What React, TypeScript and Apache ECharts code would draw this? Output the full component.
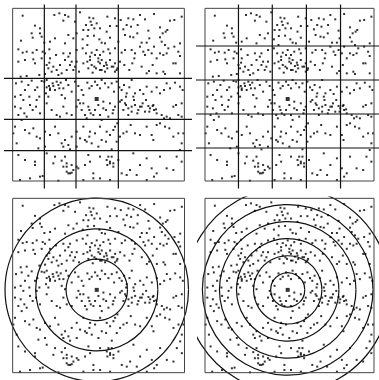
import React, { useEffect, useRef } from "react";
import * as echarts from "echarts";

// Field of scattered samples, in box units (box = 0..515 wide, 0..518 tall, y measured downward)
const points: [number, number][] = [
  [30,22],[125,20],[140,15],[157,20],[167,25],[202,12],[230,28],[242,30],[234,40],[220,50],[237,50],[252,45],[284,25],[307,30],[292,53],[312,53],[324,35],[347,30],[362,33],[382,20],[397,33],[424,17],[472,37],[485,35],[507,25],[67,52],[82,60],[152,37],[187,40],[212,65],[227,65],[245,60],[262,60],[282,70],[332,63],[342,50],[355,55],[375,50],[442,57],[450,75],[459,70],[464,65],[407,67],[57,75],
  [25,97],[60,88],[82,75],[87,85],[95,103],[112,100],[127,90],[157,105],[167,80],[182,90],[192,75],[210,93],[225,83],[244,82],[260,93],[267,103],[277,105],[292,88],[317,100],[337,80],[352,85],[362,87],[374,75],[387,103],[402,103],[410,90],[442,87],[447,100],[457,110],[462,135],[467,120],[485,115],[502,105],[17,123],[30,133],[42,130],[60,133],[72,125],[90,130],[97,135],[110,123],[130,140],[152,135],[172,135],[192,125],[210,120],[224,110],[237,133],[252,125],[262,140],[272,130],[287,123],[292,135],[307,120],[327,133],[337,125],[357,125],[367,135],[382,115],[392,130],[397,140],[424,115],[442,135],[452,140],[497,130],[502,143],
  [17,160],[37,155],[62,153],[67,165],[87,150],[102,170],[110,163],[117,190],[132,185],[142,170],[147,195],[162,185],[172,170],[177,160],[187,175],[199,190],[212,165],[227,180],[232,155],[240,193],[245,175],[257,150],[262,165],[267,185],[277,190],[282,170],[292,155],[302,175],[307,190],[314,180],[322,160],[335,170],[350,185],[359,165],[365,150],[387,175],[402,195],[409,188],[420,170],[432,195],[452,190],[457,197],[482,165],[489,165],[502,195],[80,200],[97,197],[24,205],[42,203],
  [10,225],[27,220],[47,230],[57,217],[67,245],[74,237],[87,218],[102,215],[109,233],[112,240],[120,225],[127,245],[137,230],[144,223],[152,240],[160,215],[167,230],[177,250],[187,220],[197,233],[207,245],[212,260],[224,223],[230,240],[237,233],[247,220],[254,230],[262,240],[267,215],[277,225],[287,237],[297,225],[304,250],[312,220],[320,237],[327,245],[334,230],[340,265],[350,237],[357,215],[367,255],[382,245],[392,257],[402,235],[417,250],[432,237],[442,255],[454,245],[462,225],[472,240],[487,223],[502,235],[7,265],[24,260],[37,245],[50,265],[72,275],[80,265],[32,275],
  [24,300],[35,315],[42,325],[52,290],[60,305],[70,295],[82,315],[102,285],[117,305],[132,320],[142,325],[152,295],[162,315],[177,320],[192,295],[202,285],[207,305],[217,320],[227,295],[234,315],[247,305],[262,320],[272,300],[280,305],[292,285],[300,315],[307,295],[322,280],[332,305],[340,290],[347,320],[357,295],[364,275],[374,315],[382,295],[390,285],[397,310],[407,293],[412,300],[422,290],[424,305],[432,315],[447,320],[454,330],[462,325],[472,330],[482,295],[490,290],[497,320],[507,285],
  [7,355],[37,365],[50,375],[62,360],[72,385],[82,390],[97,370],[112,380],[127,355],[137,375],[147,405],[157,395],[167,410],[177,385],[192,370],[202,390],[217,395],[230,385],[237,405],[247,375],[257,415],[267,395],[280,400],[292,380],[302,365],[307,355],[314,345],[322,385],[332,375],[342,370],[354,350],[367,375],[382,380],[402,355],[417,380],[422,395],[432,350],[442,345],[457,355],[470,360],[482,385],[497,375],[507,405],[97,415],[77,420],[172,423],[297,423],
  [17,440],[37,455],[67,460],[67,470],[82,505],[90,503],[102,435],[127,445],[122,465],[147,457],[162,475],[167,495],[177,493],[157,445],[192,475],[197,480],[217,470],[227,440],[232,460],[242,495],[262,445],[282,455],[292,465],[297,445],[284,470],[302,475],[317,455],[327,495],[342,500],[352,485],[362,435],[372,500],[382,470],[402,450],[417,480],[424,505],[432,495],[442,445],[462,480],[482,485],[492,445],[507,460],[22,515],[52,510],[137,517],[212,515],[262,510],[402,515],[292,515],[242,510],
  [220,135],[232,145],[247,140],[257,160],[267,155],[280,163],[284,180],[297,175],[307,165],[312,185],[224,160],[237,170],[250,180],[262,185],[274,173],
  [95,220],[102,237],[112,245],[122,233],[132,220],[140,240],[147,260],[157,270],[107,265],[100,255],
  [327,275],[337,285],[347,300],[357,310],[367,290],[377,305],[387,295],[400,275],[410,310],[420,293],[430,303],[342,255],[362,265],
  [197,275],[212,285],[230,305],[242,320],[257,290],[272,280],[287,325],[302,305],[267,335],[222,330],
  [107,180],[122,175],[137,200],[157,155],[167,145],[182,185],[192,160],[112,150],
  [212,355],[232,370],[262,355],[282,370],[312,400],[192,415],[152,415],[222,400],
  [152,475],[162,465],[177,470],[182,485],[172,495],[162,490],[287,445],[292,460],[302,465],
  [407,125],[417,135],[432,150],[7,295],[17,320],[27,335],[2,375],[12,405],[510,245],[507,325],[512,375],[502,425],
];
const centre: [number, number] = [252, 272];
const boxW = 515;
const boxH = 518;
// Panel A: uneven grid; Panel B: even 5x5 grid
const colsA = [95, 190, 317];
const rowsA = [210, 333, 427];
const colsB = [102, 205, 309, 413];
const rowsB = [113, 215, 317, 419];
// Panel C: three rings; Panel D: six rings
const ringsC = [92, 183, 275];
const ringsD = [52, 104, 156, 208, 260, 312];

type R = { x0: number; x1: number; y0: number; y1: number };
const panels: { box: R; clip: R }[] = [
  { box: { x0: 12.67, x1: 184.33, y0: 8.33, y1: 181 }, clip: { x0: 5, x1: 190, y0: 5, y1: 188 } },
  { box: { x0: 205, x1: 374, y0: 8.33, y1: 181 }, clip: { x0: 197, x1: 379, y0: 5, y1: 188 } },
  { box: { x0: 12.67, x1: 184.5, y0: 198.33, y1: 372.67 }, clip: { x0: 3, x1: 193, y0: 194, y1: 380 } },
  { box: { x0: 205, x1: 374, y0: 198.33, y1: 372.67 }, clip: { x0: 197.5, x1: 379, y0: 196.5, y1: 380 } },
];

const INK = "#111";

export default function App() {
  const ref = useRef<HTMLDivElement>(null);
  useEffect(() => {
    if (!ref.current) return;
    const chart = echarts.init(ref.current, undefined, { renderer: "svg" });
    const grid: any[] = [];
    const xAxis: any[] = [];
    const yAxis: any[] = [];
    const series: any[] = [];
    panels.forEach((p, i) => {
      const sx = (p.box.x1 - p.box.x0) / boxW;
      const sy = (p.box.y1 - p.box.y0) / boxH;
      grid.push({ left: p.clip.x0, top: p.clip.y0, width: p.clip.x1 - p.clip.x0, height: p.clip.y1 - p.clip.y0 });
      xAxis.push({ type: "value", gridIndex: i, show: false, min: (p.clip.x0 - p.box.x0) / sx, max: (p.clip.x1 - p.box.x0) / sx });
      yAxis.push({ type: "value", gridIndex: i, show: false, inverse: true, min: (p.clip.y0 - p.box.y0) / sy, max: (p.clip.y1 - p.box.y0) / sy });
      // frame
      series.push({
        type: "line", xAxisIndex: i, yAxisIndex: i, symbol: "none", silent: true, clip: false,
        lineStyle: { color: "#444", width: 1 },
        data: [[0, 0], [boxW, 0], [boxW, boxH], [0, boxH], [0, 0]],
      });
      // points
      series.push({
        type: "scatter", xAxisIndex: i, yAxisIndex: i, symbol: "rect", symbolSize: 2, silent: true,
        itemStyle: { color: "#000" }, data: points,
      });
      series.push({
        type: "scatter", xAxisIndex: i, yAxisIndex: i, symbol: "rect", symbolSize: 4, silent: true,
        itemStyle: { color: "#000" }, data: [centre],
      });
      if (i < 2) {
        const cols = i === 0 ? colsA : colsB;
        const rows = i === 0 ? rowsA : rowsB;
        cols.forEach((c) => series.push({
          type: "line", xAxisIndex: i, yAxisIndex: i, symbol: "none", silent: true, clip: true,
          lineStyle: { color: INK, width: 1.2 }, data: [[c, -200], [c, 800]],
        }));
        rows.forEach((r) => series.push({
          type: "line", xAxisIndex: i, yAxisIndex: i, symbol: "none", silent: true, clip: true,
          lineStyle: { color: INK, width: 1.2 }, data: [[-200, r], [800, r]],
        }));
      } else {
        const rings = i === 2 ? ringsC : ringsD;
        series.push({
          type: "custom", xAxisIndex: i, yAxisIndex: i, silent: true, clip: true,
          encode: { x: 0, y: 1 },
          data: rings.map((r) => [centre[0], centre[1], r]),
          renderItem: (_params: any, api: any) => {
            const c = api.coord([api.value(0), api.value(1)]);
            const rr = api.size([api.value(2), 0])[0];
            return {
              type: "circle",
              shape: { cx: c[0], cy: c[1], r: rr },
              style: { fill: "none", stroke: INK, lineWidth: 1.2 },
            };
          },
        });
      }
    });
    chart.setOption({ animation: false, backgroundColor: "#fff", grid, xAxis, yAxis, series });
    return () => chart.dispose();
  }, []);
  return <div ref={ref} style={{ position: "absolute", left: 0, top: 0, width: 379, height: 380 }} />;
}
